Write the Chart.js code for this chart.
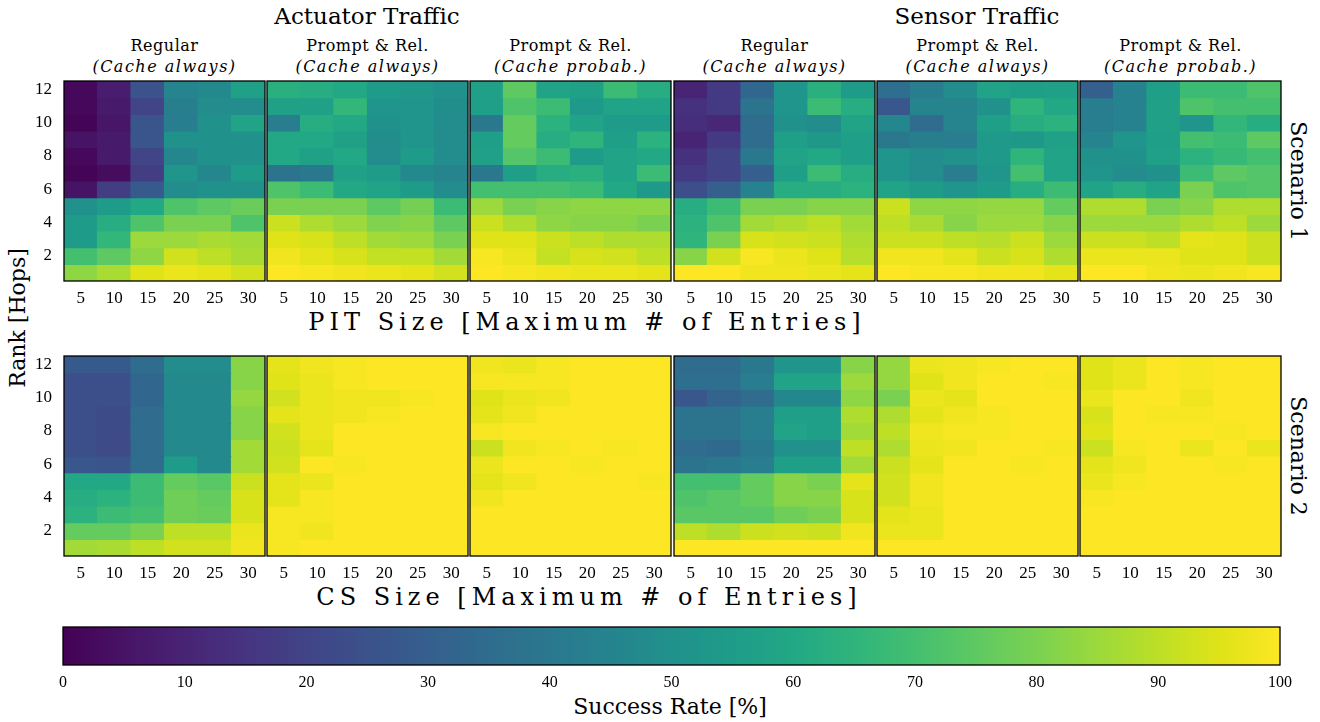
<!DOCTYPE html>
<html>
<head>
<meta charset="utf-8">
<script src="https://cdn.jsdelivr.net/npm/chart.js@4.4.0/dist/chart.umd.min.js"></script>
<style>
  body { margin: 0; background: #fff; width: 1320px; height: 722px; position: relative; overflow: hidden; font-family: "DejaVu Serif", serif; color: #000; }
  .t { position: absolute; white-space: nowrap; transform: translate(-50%, -50%); }
  .big { font-size: 22px; }
  .sub { font-size: 16px; letter-spacing: 0.5px; }
  .it { font-style: italic; letter-spacing: 1.5px; }
  .rot-l { transform: translate(-50%, -50%) rotate(-90deg); }
  .rot-r { transform: translate(-50%, -50%) rotate(90deg); }
  canvas { position: absolute; }
</style>
</head>
<body>

<div class="t big" style="left:367px;top:16px;font-size:23px">Actuator Traffic</div>
<div class="t big" style="left:977px;top:16px;font-size:23px">Sensor Traffic</div>

<div id="subs"></div>

<div class="t big" style="left:587px;top:322px;font-size:24px;letter-spacing:5px">PIT Size [Maximum # of Entries]</div>
<div class="t big" style="left:589px;top:597px;font-size:24px;letter-spacing:5px">CS Size [Maximum # of Entries]</div>
<div class="t big rot-l" style="left:17px;top:318px">Rank [Hops]</div>
<div class="t big rot-r" style="left:1298px;top:181px">Scenario 1</div>
<div class="t big rot-r" style="left:1298px;top:456px">Scenario 2</div>
<div class="t big" style="left:670px;top:706px">Success Rate [%]</div>

<script>
// x categories (buffer size) and y ranks
var sizes = [5, 10, 15, 20, 25, 30];
var ranks = [12, 11, 10, 9, 8, 7, 6, 5, 4, 3, 2, 1];   // row order of the matrices below (top to bottom)
var rankTicks = [2, 4, 6, 8, 10, 12];
var barTicks = [0, 10, 20, 30, 40, 50, 60, 70, 80, 90, 100];

var titlesTop = ["Regular", "Prompt & Rel.", "Prompt & Rel.", "Regular", "Prompt & Rel.", "Prompt & Rel."];
var titlesBottom = ["(Cache always)", "(Cache always)", "(Cache probab.)", "(Cache always)", "(Cache always)", "(Cache probab.)"];

// success rate [%], scenario 1 (PIT size varied)
var actRegS1 = [
  [2, 8, 25, 45, 47, 57],
  [2, 7, 20, 43, 48, 48],
  [1, 6, 26, 42, 50, 58],
  [5, 7, 26, 50, 50, 50],
  [2, 7, 20, 46, 50, 50],
  [1, 3, 18, 52, 46, 55],
  [5, 18, 28, 48, 50, 50],
  [50, 55, 60, 72, 75, 77],
  [55, 62, 72, 80, 80, 72],
  [55, 66, 85, 85, 87, 86],
  [70, 75, 83, 93, 90, 87],
  [83, 87, 95, 97, 96, 93]
];
var actPrAlwS1 = [
  [63, 62, 60, 55, 53, 50],
  [57, 57, 66, 52, 52, 49],
  [42, 62, 60, 50, 52, 48],
  [60, 60, 57, 49, 52, 48],
  [60, 57, 60, 48, 55, 48],
  [38, 40, 57, 55, 47, 45],
  [72, 68, 60, 58, 55, 48],
  [80, 80, 80, 75, 79, 68],
  [92, 88, 85, 81, 82, 75],
  [95, 94, 90, 86, 85, 80],
  [98, 96, 94, 91, 91, 86],
  [100, 99, 98, 97, 96, 93]
];
var actPrProbS1 = [
  [57, 75, 58, 57, 68, 62],
  [56, 72, 68, 54, 58, 58],
  [40, 76, 64, 58, 55, 55],
  [56, 76, 62, 65, 56, 64],
  [57, 73, 68, 55, 58, 60],
  [40, 56, 62, 63, 58, 68],
  [70, 70, 70, 68, 60, 54],
  [85, 80, 82, 83, 83, 83],
  [92, 88, 83, 82, 82, 80],
  [95, 95, 92, 90, 88, 88],
  [99, 97, 91, 94, 93, 90],
  [100, 99, 98, 97, 97, 96]
];
var senRegS1 = [
  [10, 17, 33, 52, 63, 55],
  [14, 17, 38, 52, 68, 62],
  [13, 11, 35, 50, 48, 58],
  [10, 17, 35, 56, 53, 56],
  [14, 20, 40, 58, 60, 56],
  [17, 20, 30, 56, 68, 62],
  [24, 30, 44, 62, 62, 64],
  [62, 68, 80, 80, 82, 82],
  [64, 72, 86, 88, 90, 86],
  [65, 80, 94, 93, 92, 88],
  [82, 93, 99, 97, 95, 89],
  [100, 100, 98, 98, 97, 96]
];
var senPrAlwS1 = [
  [36, 42, 48, 58, 56, 57],
  [27, 45, 45, 50, 65, 60],
  [46, 35, 45, 56, 62, 64],
  [40, 43, 42, 54, 53, 57],
  [52, 48, 50, 54, 65, 58],
  [52, 48, 42, 52, 70, 58],
  [58, 55, 52, 55, 62, 68],
  [92, 83, 83, 84, 84, 76],
  [90, 87, 82, 85, 85, 82],
  [92, 92, 90, 89, 92, 85],
  [98, 98, 96, 92, 94, 88],
  [100, 99, 99, 98, 98, 96]
];
var senPrProbS1 = [
  [30, 44, 56, 68, 68, 72],
  [42, 44, 57, 72, 70, 70],
  [42, 44, 57, 52, 66, 62],
  [45, 52, 56, 70, 68, 75],
  [50, 50, 57, 64, 67, 70],
  [52, 48, 50, 68, 75, 73],
  [58, 62, 58, 80, 72, 73],
  [88, 88, 80, 82, 88, 88],
  [85, 85, 85, 88, 90, 85],
  [92, 92, 90, 96, 95, 92],
  [97, 97, 97, 95, 95, 92],
  [100, 100, 98, 97, 98, 99]
];

// success rate [%], scenario 2 (CS size varied)
var actRegS2 = [
  [28, 28, 35, 48, 48, 82],
  [24, 24, 33, 47, 47, 82],
  [24, 24, 33, 47, 47, 84],
  [24, 23, 35, 47, 47, 82],
  [24, 23, 35, 47, 47, 82],
  [24, 22, 35, 47, 47, 86],
  [27, 26, 35, 55, 47, 86],
  [60, 60, 68, 76, 74, 92],
  [62, 64, 68, 78, 76, 94],
  [64, 68, 70, 78, 77, 94],
  [76, 76, 80, 90, 90, 97],
  [86, 87, 90, 93, 93, 98]
];
var actPrAlwS2 = [
  [96, 98, 99, 100, 100, 100],
  [95, 97, 99, 100, 100, 100],
  [93, 97, 98, 98, 99, 100],
  [96, 97, 98, 99, 100, 100],
  [93, 97, 100, 100, 100, 100],
  [92, 96, 100, 100, 100, 100],
  [93, 100, 99, 100, 100, 100],
  [96, 97, 100, 100, 100, 100],
  [96, 99, 100, 100, 100, 100],
  [99, 99, 100, 100, 100, 100],
  [99, 98, 100, 100, 100, 100],
  [99, 100, 100, 100, 100, 100]
];
var actPrProbS2 = [
  [98, 97, 99, 100, 100, 100],
  [99, 99, 99, 100, 100, 100],
  [95, 97, 98, 100, 100, 100],
  [96, 98, 100, 100, 100, 100],
  [99, 100, 100, 100, 100, 100],
  [92, 98, 99, 100, 99, 100],
  [97, 100, 100, 99, 100, 100],
  [96, 98, 100, 100, 100, 99],
  [98, 100, 100, 100, 100, 100],
  [100, 100, 100, 100, 100, 100],
  [100, 100, 100, 100, 100, 100],
  [100, 100, 100, 100, 100, 100]
];
var senRegS2 = [
  [35, 35, 40, 52, 52, 82],
  [36, 36, 42, 58, 58, 85],
  [27, 32, 35, 46, 46, 83],
  [38, 38, 42, 56, 56, 88],
  [38, 38, 42, 58, 56, 86],
  [35, 34, 40, 50, 50, 90],
  [38, 40, 42, 56, 56, 86],
  [70, 70, 76, 82, 80, 96],
  [72, 74, 76, 82, 82, 94],
  [74, 74, 74, 78, 80, 94],
  [90, 88, 92, 93, 92, 98],
  [100, 100, 100, 100, 100, 100]
];
var senPrAlwS2 = [
  [84, 97, 98, 99, 100, 100],
  [84, 95, 98, 100, 100, 99],
  [80, 97, 96, 100, 100, 100],
  [88, 96, 98, 99, 100, 100],
  [90, 98, 99, 99, 100, 100],
  [88, 97, 98, 100, 100, 99],
  [92, 96, 100, 100, 99, 100],
  [93, 98, 100, 100, 100, 100],
  [93, 98, 100, 100, 100, 100],
  [96, 97, 100, 100, 100, 100],
  [97, 97, 100, 100, 100, 100],
  [100, 100, 100, 100, 100, 100]
];
var senPrProbS2 = [
  [95, 97, 100, 99, 100, 100],
  [95, 97, 100, 99, 100, 100],
  [97, 100, 100, 98, 100, 100],
  [94, 100, 99, 99, 100, 100],
  [95, 100, 100, 100, 99, 100],
  [92, 99, 100, 97, 100, 97],
  [96, 98, 100, 100, 99, 100],
  [97, 99, 100, 100, 100, 100],
  [99, 100, 100, 100, 100, 100],
  [100, 100, 100, 100, 100, 100],
  [100, 100, 100, 100, 100, 100],
  [100, 100, 100, 100, 100, 100]
];

// viridis colour stops, every 5 %
var viridis = ["#440154", "#471365", "#482475", "#463480", "#414487", "#3b528b", "#355f8d",
  "#2f6c8e", "#2a788e", "#25848e", "#21918c", "#1e9c89", "#22a884", "#2fb47c", "#44bf70",
  "#5ec962", "#7ad151", "#9bd93c", "#bddf26", "#dfe318", "#fde725"];

function hex(h) { return [1, 3, 5].map(i => parseInt(h.substr(i, 2), 16)); }
function colorOf(v) {
  var p = Math.max(0, Math.min(100, v)) / 5;
  var i = Math.min(19, Math.floor(p)), f = p - i;
  var a = hex(viridis[i]), b = hex(viridis[i + 1]);
  var c = a.map((x, k) => Math.round(x + (b[k] - x) * f));
  return "rgb(" + c.join(",") + ")";
}

var serif = "Liberation Serif";

// black box round each plot area
var frame = {
  id: "frame",
  afterDraw(chart) {
    var a = chart.chartArea, ctx = chart.ctx;
    ctx.save();
    ctx.strokeStyle = "#000";
    ctx.lineWidth = 1.3;
    ctx.strokeRect(a.left, a.top, a.right - a.left, a.bottom - a.top);
    ctx.restore();
  }
};

var PW = 201, PH = 200, XAX = 32, YAX = 64, PAD = 3, TOPPAD = 24;
var lefts = [64, 267, 470, 674, 877, 1080];
var rowTops = [81, 356];
var panels = [
  [actRegS1, actPrAlwS1, actPrProbS1, senRegS1, senPrAlwS1, senPrProbS1],
  [actRegS2, actPrAlwS2, actPrProbS2, senRegS2, senPrAlwS2, senPrProbS2]
];

// panel subtitles
var subs = document.getElementById("subs");
lefts.forEach(function (l, i) {
  var cx = l + PW / 2;
  subs.insertAdjacentHTML("beforeend",
    '<div class="t sub" style="left:' + cx + 'px;top:45px">' + titlesTop[i].replace("&", "&amp;") + '</div>' +
    '<div class="t sub it" style="left:' + cx + 'px;top:66px">' + titlesBottom[i] + '</div>');
});

function makePanel(matrix, left, top, showY) {
  var cv = document.createElement("canvas");
  var yw = showY ? YAX : 0;
  var w = PW + PAD * 2 + yw, h = PH + XAX + TOPPAD;
  cv.width = w; cv.height = h;
  cv.style.width = w + "px"; cv.style.height = h + "px";
  cv.style.left = (left - PAD - yw) + "px";
  cv.style.top = (top - TOPPAD) + "px";
  document.body.appendChild(cv);

  var datasets = ranks.map(function (r, k) {
    return {
      data: sizes.map(() => [r - 0.5, r + 0.5]),
      backgroundColor: matrix[k].map(colorOf)
    };
  });

  new Chart(cv, {
    type: "bar",
    data: { labels: sizes.map(String), datasets: datasets },
    options: {
      responsive: false,
      maintainAspectRatio: false,
      animation: false,
      events: [],
      layout: { padding: { top: TOPPAD, left: PAD, right: PAD, bottom: 0 } },
      plugins: { legend: { display: false }, tooltip: { enabled: false } },
      datasets: { bar: { grouped: false, barPercentage: 1, categoryPercentage: 1, borderWidth: 0, inflateAmount: 0.6 } },
      scales: {
        x: {
          grid: { display: false, drawTicks: false },
          border: { display: false },
          ticks: { color: "#000", padding: 7, maxRotation: 0, autoSkip: false, font: { family: serif, size: 17 } },
          afterFit(s) { s.height = XAX; }
        },
        y: {
          display: showY,
          min: 0.5, max: 12.5,
          grid: { display: false, drawTicks: false },
          border: { display: false },
          ticks: { color: "#000", padding: 12, font: { family: serif, size: 17 } },
          afterBuildTicks(s) { s.ticks = rankTicks.map(v => ({ value: v })); },
          afterFit(s) { if (showY) s.width = YAX; }
        }
      }
    },
    plugins: [frame]
  });
}

panels.forEach(function (row, ri) {
  row.forEach(function (m, ci) { makePanel(m, lefts[ci], rowTops[ri], ci === 0); });
});

// colour bar
(function () {
  var cv = document.createElement("canvas");
  var L = 63, T = 627, W = 1217, H = 38, side = 24, top = 12;
  var w = W + side * 2, h = H + 34 + top;
  cv.width = w; cv.height = h;
  cv.style.width = w + "px"; cv.style.height = h + "px";
  cv.style.left = (L - side) + "px"; cv.style.top = (T - top) + "px";
  document.body.appendChild(cv);
  new Chart(cv, {
    type: "bar",
    data: {
      labels: ["rate"],
      datasets: [{
        data: [[0, 100]],
        backgroundColor: function (c) {
          var a = c.chart.chartArea;
          if (!a) return viridis[10];
          var g = c.chart.ctx.createLinearGradient(a.left, 0, a.right, 0);
          viridis.forEach((col, i) => g.addColorStop(i / 20, col));
          return g;
        }
      }]
    },
    options: {
      indexAxis: "y",
      responsive: false,
      maintainAspectRatio: false,
      animation: false,
      events: [],
      layout: { padding: { top: top, left: side, right: side, bottom: 0 } },
      plugins: { legend: { display: false }, tooltip: { enabled: false } },
      datasets: { bar: { barPercentage: 1, categoryPercentage: 1, borderWidth: 0, inflateAmount: 0 } },
      scales: {
        x: {
          min: 0, max: 100,
          grid: { display: false, drawTicks: false },
          border: { display: false },
          ticks: { color: "#000", padding: 8, font: { family: serif, size: 16 } },
          afterBuildTicks(s) { s.ticks = barTicks.map(v => ({ value: v })); },
          afterFit(s) { s.height = 34; }
        },
        y: { display: false }
      }
    },
    plugins: [frame]
  });
})();
</script>
</body>
</html>
